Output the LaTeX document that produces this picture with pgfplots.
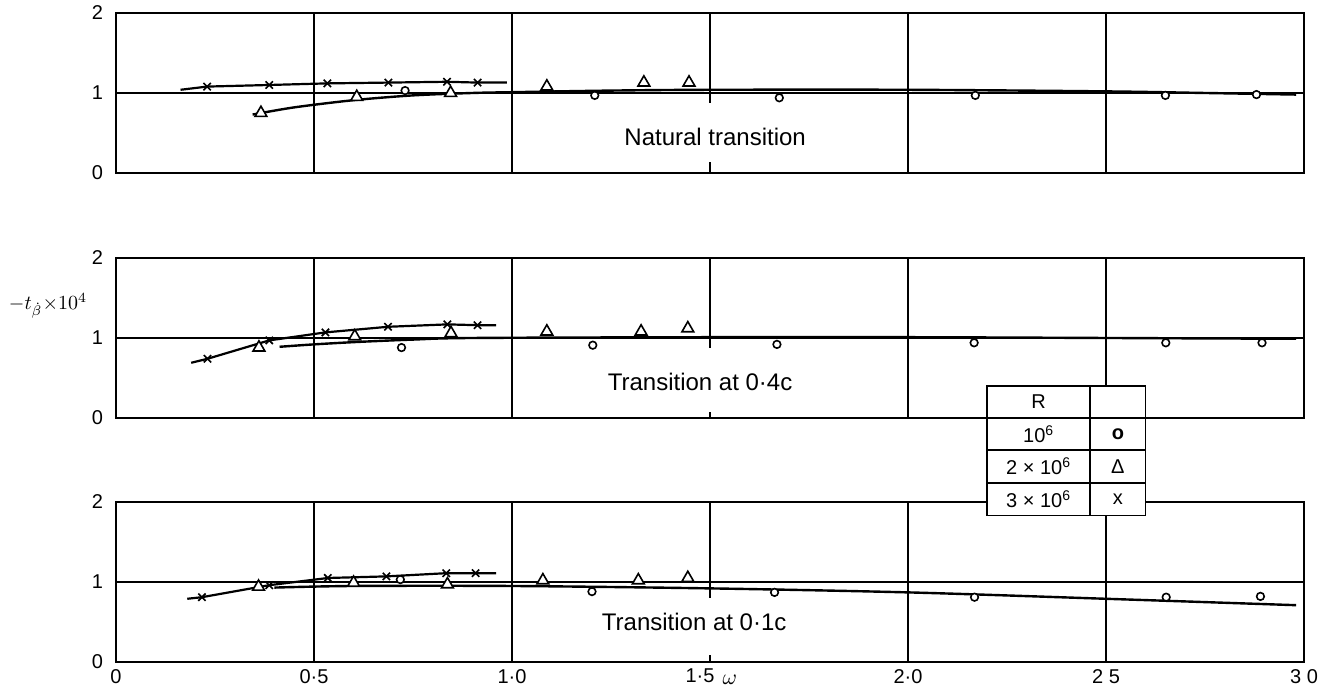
\documentclass[border=0pt]{standalone}
\usepackage{fontspec}
\setmainfont{Liberation Sans}
\usepackage{pgfplots}
\pgfplotsset{compat=1.18}
\usetikzlibrary{calc}

\pgfplotsset{
  panel/.style={
    anchor=south west, scale only axis,
    width=594pt, height=80pt,
    xmin=0, xmax=3, ymin=0, ymax=2,
    ytick={0,1,2}, yticklabels={0,1,2},
    xtick={0,1.5,3},
    extra x ticks={0.5,1,2,2.5},
    extra x tick style={grid=major},
    ymajorgrids,
    major grid style={line width=0.7pt, black},
    major tick length=0pt,
    tick style={draw=none},
    axis line style={line width=1pt},
    tick label style={font=\fontsize{10}{12}\selectfont},
    yticklabel style={xshift=-3pt},
    clip=false,
  },
  nolabels/.style={xticklabels={}, extra x tick labels={}},
  xline/.style={line width=1.1pt, no markers},
  fit/.style={line width=1.2pt, smooth, no markers},
  xpt/.style={only marks, mark=x, mark size=2.6pt, line width=0.8pt},
  tri/.style={only marks, mark=triangle*, mark size=3.4pt,
    mark options={fill=white, draw=black, line width=0.8pt}},
  circ/.style={only marks, mark=*, mark size=1.9pt,
    mark options={fill=white, draw=black, line width=0.8pt}},
}

\begin{document}
\begin{tikzpicture}

% ---- Natural transition
\begin{axis}[panel, nolabels, at={(58pt,257.5pt)}]
\addplot[fit] coordinates {
  (0.345,0.73) (0.45,0.82) (0.6,0.91) (0.75,0.97) (0.9,1.0) (1.0,1.01)
  (1.25,1.03) (1.5,1.04) (2.0,1.04) (2.5,1.02) (2.75,1.0) (2.98,0.98)};
\addplot[xline] coordinates {
  (0.163,1.04) (0.23,1.08) (0.387,1.10) (0.534,1.12) (0.688,1.13)
  (0.836,1.14) (0.913,1.13) (0.987,1.13)};
\addplot[xpt] coordinates {
  (0.23,1.08) (0.387,1.10) (0.534,1.12) (0.688,1.13) (0.836,1.14) (0.913,1.13)};
\addplot[tri] coordinates {
  (0.366,0.75) (0.608,0.95) (0.845,1.0) (1.088,1.08) (1.333,1.13) (1.447,1.13)};
\addplot[circ] coordinates {
  (0.73,1.03) (1.209,0.97) (1.675,0.94) (2.17,0.97) (2.65,0.97) (2.88,0.98)};
\draw[line width=0.7pt] (axis cs:1.5,2) -- (axis cs:1.5,0.88);
\draw[line width=0.7pt] (axis cs:1.5,0) -- (axis cs:1.5,0.14);
\node[font=\fontsize{12}{14}\selectfont] at (axis cs:1.513,0.45) {Natural transition};
\end{axis}

% ---- Transition at 0.4c
\begin{axis}[panel, nolabels, at={(58pt,135pt)}]
\addplot[fit] coordinates {
  (0.413,0.89) (0.5,0.92) (0.608,0.95) (0.75,0.98) (0.9,1.0)
  (1.5,1.01) (2.0,1.01) (2.5,1.0) (2.98,0.99)};
\addplot[xline] coordinates {
  (0.19,0.69) (0.231,0.74) (0.387,0.97) (0.529,1.07) (0.687,1.14)
  (0.837,1.17) (0.913,1.16) (0.96,1.16)};
\addplot[xpt] coordinates {
  (0.231,0.74) (0.387,0.97) (0.529,1.07) (0.687,1.14) (0.837,1.17) (0.913,1.16)};
\addplot[tri] coordinates {
  (0.361,0.88) (0.603,1.02) (0.846,1.06) (1.088,1.08) (1.326,1.08) (1.444,1.12)};
\addplot[circ] coordinates {
  (0.721,0.88) (1.204,0.91) (1.669,0.92) (2.167,0.94) (2.651,0.94) (2.894,0.94)};
\draw[line width=0.7pt] (axis cs:1.5,2) -- (axis cs:1.5,0.88);
\draw[line width=0.7pt] (axis cs:1.5,0) -- (axis cs:1.5,0.07);
\node[font=\fontsize{12}{14}\selectfont] at (axis cs:1.475,0.45) {Transition at 0·4c};
\node[font=\fontsize{10}{12}\selectfont, inner sep=1pt] at (rel axis cs:0,0.7) [xshift=-34pt]
  {$-t_{\dot{\beta}}{\times}10^{4}$};
\end{axis}

% ---- Transition at 0.1c
\begin{axis}[panel, at={(58pt,13pt)},
  xticklabels={0,\hspace*{-10pt}1·5,3 0},
  extra x tick labels={0·5,1·0,2·0,2 5}]
\addplot[fit] coordinates {
  (0.4,0.93) (0.6,0.95) (1.0,0.95) (1.5,0.92) (2.0,0.87) (2.5,0.79) (2.98,0.71)};
\addplot[xline] coordinates {
  (0.18,0.79) (0.217,0.81) (0.387,0.96) (0.535,1.05) (0.683,1.07)
  (0.834,1.11) (0.908,1.11) (0.96,1.11)};
\addplot[xpt] coordinates {
  (0.217,0.81) (0.387,0.96) (0.535,1.05) (0.683,1.07) (0.834,1.11) (0.908,1.11)};
\addplot[tri] coordinates {
  (0.36,0.94) (0.60,0.99) (0.837,0.97) (1.078,1.02) (1.319,1.02) (1.444,1.05)};
\addplot[circ] coordinates {
  (0.718,1.03) (1.202,0.88) (1.663,0.87) (2.168,0.81) (2.652,0.81) (2.89,0.82)};
\draw[line width=0.7pt] (axis cs:1.5,2) -- (axis cs:1.5,0.8);
\draw[line width=0.7pt] (axis cs:1.5,0) -- (axis cs:1.5,0.09);
\node[font=\fontsize{12}{14}\selectfont] at (axis cs:1.46,0.5) {Transition at 0·1c};
\node[font=\fontsize{11}{13}\selectfont, anchor=north] at (axis cs:1.55,0) [yshift=-3pt] {$\omega$};
% table corners
\coordinate (ta) at (axis cs:2.20,1.83);
\coordinate (tb) at (axis cs:2.60,3.45);
\coordinate (c1) at (axis cs:2.46,0);
\coordinate (r1) at (axis cs:0,3.05);
\coordinate (r2) at (axis cs:0,2.65);
\coordinate (r3) at (axis cs:0,2.24);
\end{axis}

% ---- key table
\draw[fill=white, line width=0.8pt] (ta) rectangle (tb);
\draw[line width=0.8pt] (c1 |- ta) -- (c1 |- tb);
\foreach \r in {r1,r2,r3} \draw[line width=0.8pt] (\r -| ta) -- (\r -| tb);
\path let \p1=(ta), \p2=(c1), \p3=(tb) in
  coordinate (lx) at ({(\x1+\x2)/2}, 0)
  coordinate (sx) at ({(\x2+\x3)/2}, 0);
\path let \p1=(tb), \p2=(r1), \p3=(r2), \p4=(r3), \p5=(ta) in
  coordinate (y0) at (0, {(\y1+\y2)/2})
  coordinate (y1) at (0, {(\y2+\y3)/2})
  coordinate (y2) at (0, {(\y3+\y4)/2})
  coordinate (y3) at (0, {(\y4+\y5)/2});
\begin{scope}[every node/.style={font=\fontsize{10}{12}\selectfont}]
\node at (lx |- y0) {R};
\node at (lx |- y1) {10\textsuperscript{6}};
\node at (lx |- y2) {2 × 10\textsuperscript{6}};
\node at (lx |- y3) {3 × 10\textsuperscript{6}};
\node at (sx |- y1) {\textbf{o}};
\node at (sx |- y2) {Δ};
\node at (sx |- y3) {x};
\end{scope}

\pgfresetboundingbox
\path[use as bounding box] (0,0) rectangle (665pt,344pt);
\end{tikzpicture}
\end{document}
